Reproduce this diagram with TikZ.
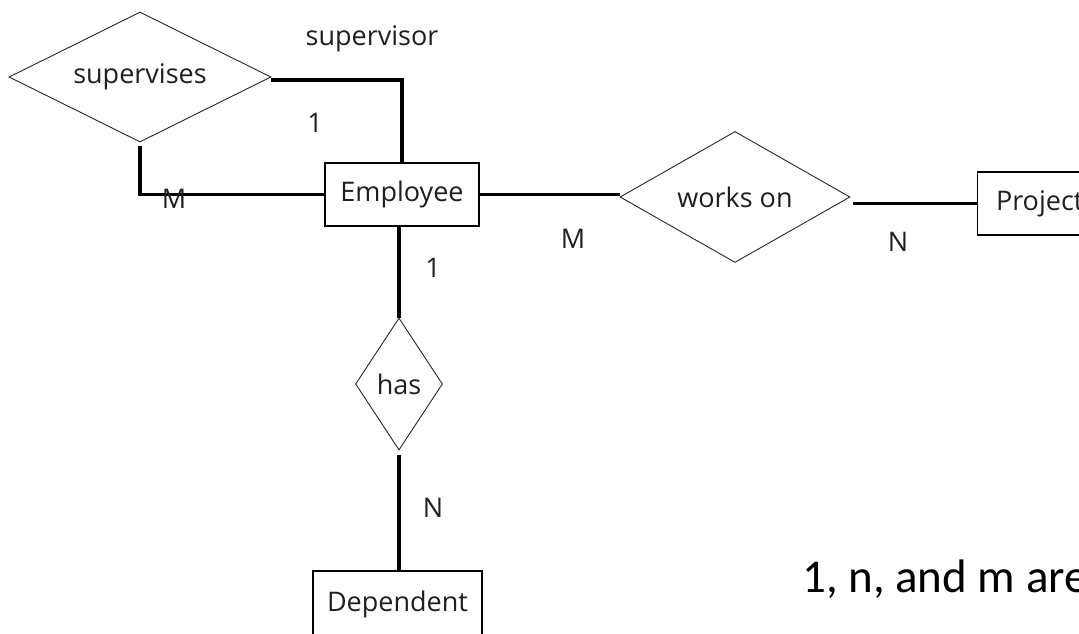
\documentclass[tikz,border=0pt]{standalone}
\usepackage{fontspec}
\setmainfont{Open Sans}
\newfontfamily\notefont{Carlito}
\usetikzlibrary{shapes.geometric}

\tikzset{
    entity/.style = {draw, line width=1.4pt, inner sep=0pt,
        minimum width=154pt, minimum height=63pt},
    relation/.style = {draw=black!85, diamond, line width=0.9pt, inner sep=0pt},
    link/.style = {line width=3.4pt},
    card/.style = {inner sep=0pt}
}

\begin{document}
\begin{tikzpicture}[
        x = 1pt,
        y = -1pt,
        font = \fontsize{27}{32}\selectfont,
        text = black!88
    ]
        \useasboundingbox (0,0) rectangle (1079,633);
        \clip (0,0) rectangle (1079,633);

        % entities
        \node[entity] (emp) at (402,194.5) {Employee};
        \node[entity, anchor=west, minimum width=124pt] (proj) at (977,203.5) {Project};
        \node[entity, minimum width=169pt, minimum height=66pt] (dep) at (397.5,604) {Dependent};

        % relationships
        \node[relation, aspect=2, minimum width=262pt, minimum height=130pt] (sup) at (140,77) {supervises};
        \node[relation, aspect=2, minimum width=230pt, minimum height=131pt] (works) at (735,197) {works on};
        \node[relation, aspect=1, minimum width=87pt, minimum height=132pt] (has) at (399,384) {has};

        % links
        \draw[link] ([yshift=-3pt]sup.east) -| (emp.north);
        \draw[link] ([yshift=-4pt]sup.south) |- (emp.west);
        \draw[link] (emp.east) -- (emp.east -| works.west);
        \draw[link] ([xshift=3pt]works.east |- proj.west) -- (proj.west);
        \draw[link] (emp.south -| has.north) -- (has.north);
        \draw[link] ([yshift=-5pt]has.south) -- (has.south |- dep.north);

        % roles and cardinalities
        \node[card] (role) at (372,39) {supervisor};
        \node[card] (c1) at (315,123) {1};
        \node[card] (c2) at (174,199) {M};
        \node[card] (c3) at (573,239) {M};
        \node[card] (c4) at (898,242) {N};
        \node[card] (c5) at (433,268) {1};
        \node[card] (c6) at (433,508) {N};

        \node[anchor=base west, inner sep=0pt, font=\notefont\fontsize{47}{56}\selectfont, text=black] (note) at (802,592) {1, n, and m are};
    \end{tikzpicture}
\end{document}
